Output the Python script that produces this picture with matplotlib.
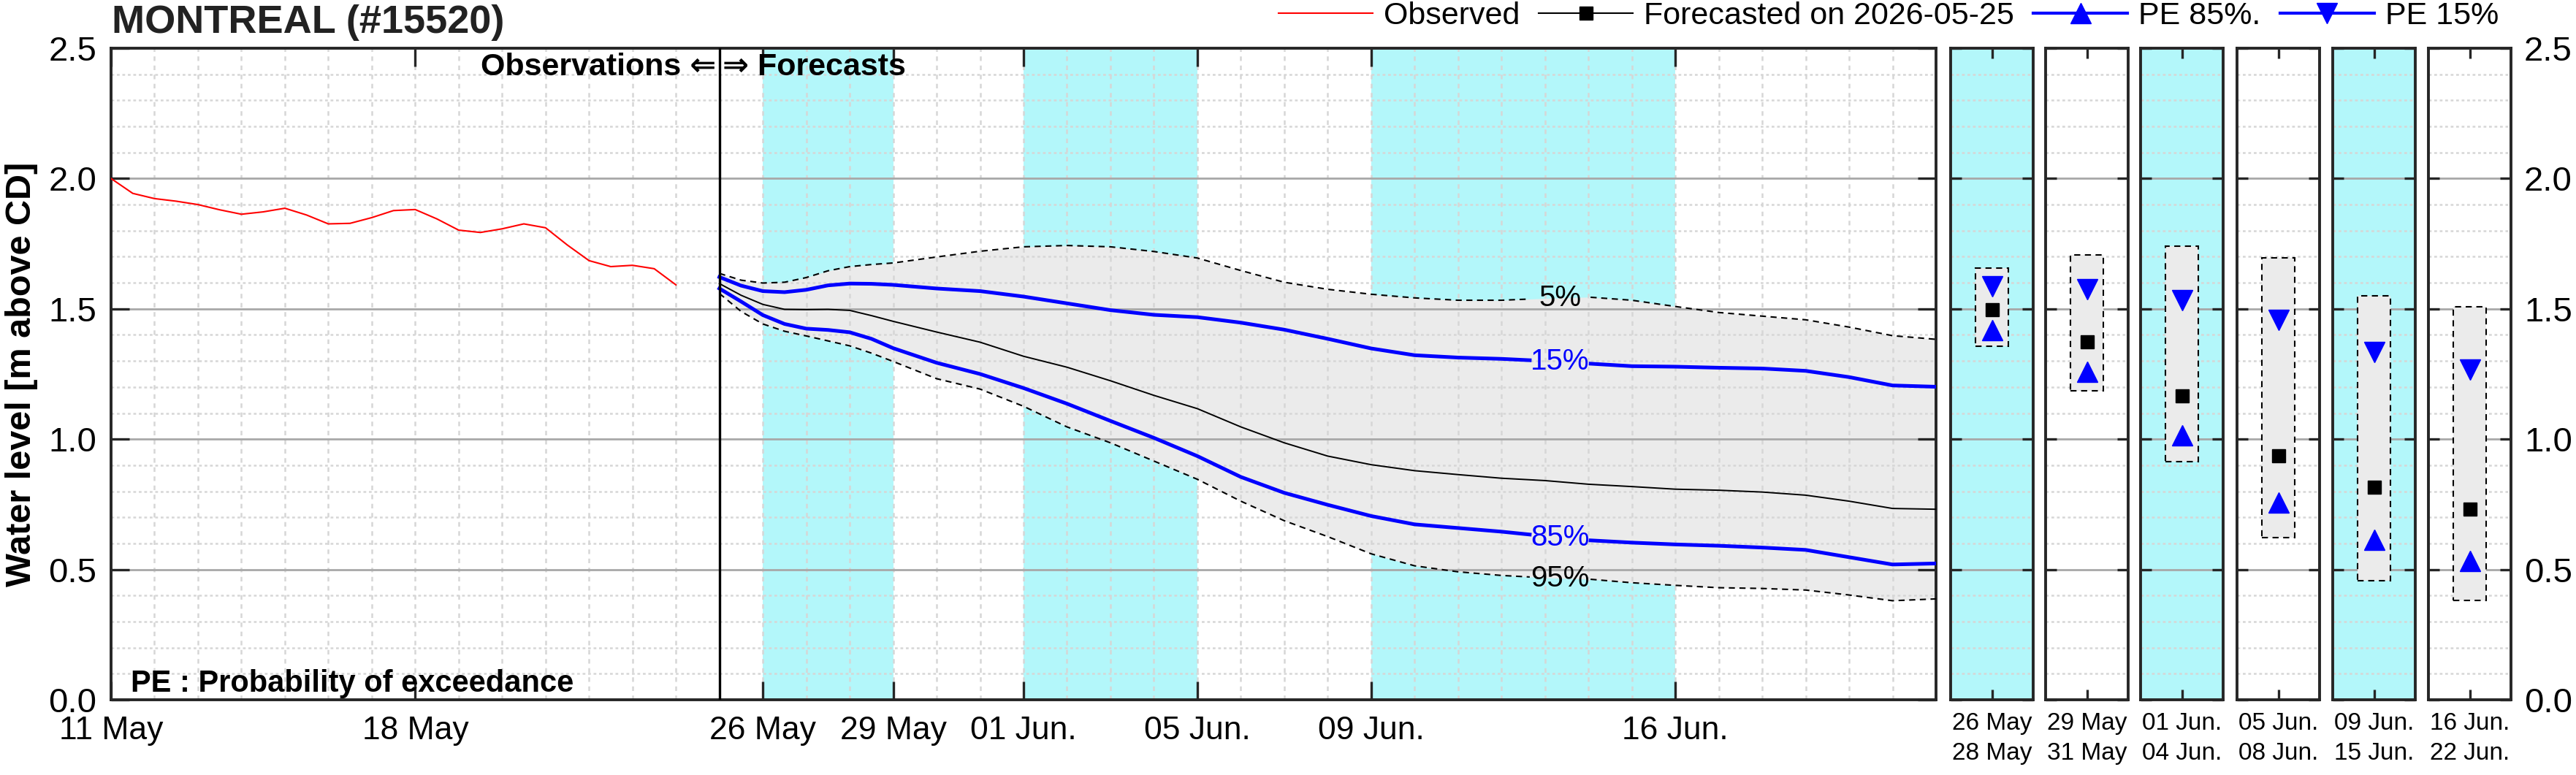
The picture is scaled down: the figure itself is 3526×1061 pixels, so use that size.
import numpy as np
import matplotlib
matplotlib.use('Agg')
import matplotlib.pyplot as plt
from matplotlib.lines import Line2D
from matplotlib.patches import Rectangle
from matplotlib.ticker import MultipleLocator

plt.rcParams['font.family'] = ['Liberation Sans', 'DejaVu Sans']

# x = days counted from 11 May 2026 00:00
obs_day = [0, 0.5, 1, 1.5, 2, 2.5, 3, 3.5, 4, 4.5, 5, 5.5, 6, 6.5, 7, 7.5,
           8, 8.5, 9, 9.5, 10, 10.5, 11, 11.5, 12, 12.5, 13]
obs_level = [2.000, 1.943, 1.923, 1.913, 1.900, 1.880, 1.863, 1.872, 1.886,
             1.860, 1.826, 1.828, 1.850, 1.877, 1.881, 1.845, 1.802, 1.793,
             1.807, 1.826, 1.811, 1.745, 1.685, 1.662, 1.667, 1.654, 1.592]

fc_day = [14, 14.5, 15, 15.5, 16, 16.5, 17, 17.5, 18, 19, 20, 21, 22, 23, 24,
          25, 26, 27, 28, 29, 30, 31, 32, 33, 34, 35, 36, 37, 38, 39, 40, 41, 42]
pe05 = [1.636, 1.610, 1.599, 1.602, 1.620, 1.646, 1.662, 1.670, 1.676,
        1.699, 1.721, 1.738, 1.743, 1.738, 1.720, 1.695, 1.647, 1.602, 1.575,
        1.556, 1.542, 1.533, 1.533, 1.540, 1.545, 1.533, 1.509, 1.486, 1.472,
        1.458, 1.430, 1.397, 1.383]
pe15 = [1.622, 1.589, 1.568, 1.564, 1.573, 1.590, 1.597, 1.596, 1.592,
        1.578, 1.568, 1.547, 1.521, 1.495, 1.477, 1.468, 1.447, 1.420, 1.385,
        1.348, 1.322, 1.313, 1.308, 1.300, 1.290, 1.280, 1.278, 1.274, 1.271,
        1.262, 1.238, 1.206, 1.201]
median = [1.597, 1.552, 1.517, 1.498, 1.497, 1.498, 1.494, 1.474, 1.452,
          1.411, 1.372, 1.318, 1.276, 1.224, 1.168, 1.117, 1.047, 0.986, 0.935,
          0.902, 0.879, 0.864, 0.850, 0.841, 0.827, 0.818, 0.808, 0.804, 0.797,
          0.785, 0.762, 0.734, 0.731]
pe85 = [1.578, 1.528, 1.476, 1.442, 1.424, 1.419, 1.410, 1.385, 1.349,
        1.293, 1.250, 1.196, 1.136, 1.070, 1.005, 0.935, 0.855, 0.794, 0.748,
        0.705, 0.673, 0.659, 0.645, 0.628, 0.612, 0.603, 0.596, 0.591, 0.584,
        0.575, 0.547, 0.519, 0.523]
pe95 = [1.559, 1.490, 1.442, 1.414, 1.396, 1.377, 1.358, 1.330, 1.298,
        1.232, 1.192, 1.126, 1.047, 0.986, 0.916, 0.846, 0.762, 0.687, 0.626,
        0.560, 0.514, 0.491, 0.477, 0.468, 0.463, 0.449, 0.439, 0.430, 0.427,
        0.421, 0.402, 0.380, 0.387]

forecast_day = 14
weekend_bands = [(15, 18), (21, 25), (29, 36)]
tick_days = [0, 7, 15, 18, 21, 25, 29, 36]
tick_labels = ['11 May', '18 May', '26 May', '29 May', '01 Jun.', '05 Jun.',
               '09 Jun.', '16 Jun.']

# summary panels
panel_start = ['26 May', '29 May', '01 Jun.', '05 Jun.', '09 Jun.', '16 Jun.']
panel_end = ['28 May', '31 May', '04 Jun.', '08 Jun.', '15 Jun.', '22 Jun.']
panel_shaded = [True, False, True, False, True, False]
panel_max = [1.655, 1.708, 1.741, 1.695, 1.551, 1.509]
panel_min = [1.357, 1.186, 0.915, 0.621, 0.456, 0.380]
panel_pe15 = [1.585, 1.576, 1.532, 1.456, 1.334, 1.266]
panel_med = [1.496, 1.372, 1.167, 0.936, 0.816, 0.731]
panel_pe85 = [1.418, 1.258, 1.014, 0.757, 0.613, 0.532]

CYAN = '#b3f7fa'
FILL = '#ebebeb'
SPINE = '#262626'
BLUE = '#0000ff'

W, H = 3526, 1061
fig = plt.figure(figsize=(W / 100, H / 100), dpi=100)
fig.patch.set_facecolor('white')


def fx(px):
    return px / W


def fy(py):
    return 1 - py / H


def style_axes(ax, tick_len):
    for s in ax.spines.values():
        s.set_linewidth(2.8)
        s.set_color(SPINE)
    ax.set_ylim(0, 2.5)
    ax.yaxis.set_major_locator(MultipleLocator(0.5))
    ax.yaxis.set_minor_locator(MultipleLocator(0.1))
    ax.set_axisbelow(True)
    ax.grid(which='major', axis='y', color='#a8a8a8', lw=2.0, ls='-')
    ax.grid(which='minor', axis='y', color='#d6d6d6', lw=1.8, ls=(0, (1.5, 1.5)))
    ax.tick_params(which='major', direction='in', length=tick_len, width=2.4,
                   color=SPINE, top=True, right=True)
    ax.tick_params(which='minor', length=0)


def plot_gap(ax, x, y, gap, **kw):
    x = np.asarray(x, float)
    y = np.asarray(y, float)
    lo, hi = gap
    xl = np.append(x[x < lo], lo)
    yl = np.append(y[x < lo], np.interp(lo, x, y))
    xr = np.insert(x[x > hi], 0, hi)
    yr = np.insert(y[x > hi], 0, np.interp(hi, x, y))
    ax.plot(xl, yl, **kw)
    ax.plot(xr, yr, **kw)


# main axes
ax = fig.add_axes([fx(152), fy(958), fx(2650 - 152), (958 - 66) / H])
style_axes(ax, 18)
ax.set_xlim(0, 42)
ax.set_xticks(tick_days)
ax.set_xticklabels(tick_labels)
ax.xaxis.set_minor_locator(MultipleLocator(1))
ax.grid(which='both', axis='x', color='#d6d6d6', lw=1.8, ls=(0, (2.5, 2.5)))
ax.tick_params(axis='x', labelsize=32, pad=16)
ax.tick_params(axis='y', labelsize=34, pad=14, labelright=False)

for a, b in weekend_bands:
    ax.axvspan(a, b, color=CYAN, lw=0, zorder=0.1)
ax.fill_between(fc_day, pe95, pe05, color=FILL, lw=0, zorder=0.3)

ax.plot(obs_day, obs_level, color='red', lw=1.5, zorder=3)
ax.axvline(forecast_day, color='black', lw=2.4, zorder=4)

gap = (32.65, 34.05)
lab_x = 33.35
plot_gap(ax, fc_day, pe05, gap, color='black', lw=1.5, ls=(0, (4, 3)), zorder=3)
plot_gap(ax, fc_day, pe95, gap, color='black', lw=1.5, ls=(0, (4, 3)), zorder=3)
ax.plot(fc_day, median, color='black', lw=1.4, zorder=3)
plot_gap(ax, fc_day, pe15, gap, color=BLUE, lw=3.6, zorder=3)
plot_gap(ax, fc_day, pe85, gap, color=BLUE, lw=3.6, zorder=3)

ax.text(lab_x, np.interp(lab_x, fc_day, pe05), '5%', fontsize=29, color='black',
        ha='center', va='center', zorder=5)
ax.text(lab_x, np.interp(lab_x, fc_day, pe15), '15%', fontsize=29, color=BLUE,
        ha='center', va='center', zorder=5)
ax.text(lab_x, np.interp(lab_x, fc_day, pe85), '85%', fontsize=29, color=BLUE,
        ha='center', va='center', zorder=5)
ax.text(lab_x, np.interp(lab_x, fc_day, pe95), '95%', fontsize=29, color='black',
        ha='center', va='center', zorder=5)

ax.text(forecast_day - 0.08, 2.396, 'Observations \u21d0', fontsize=31,
        fontweight='bold', ha='right', va='baseline', zorder=5)
ax.text(forecast_day + 0.08, 2.396, '\u21d2 Forecasts', fontsize=31,
        fontweight='bold', ha='left', va='baseline', zorder=5)
ax.text(0.45, 0.031, 'PE : Probability of exceedance', fontsize=30,
        fontweight='bold', ha='left', va='baseline', zorder=5)
fig.text(fx(30), fy(512), 'Water level [m above CD]', fontsize=35,
         fontweight='bold', rotation=90, ha='center', va='center')

# summary panels
panel_left = [2670, 2800, 2930, 3062, 3193, 3324]
for i in range(len(panel_start)):
    pa = fig.add_axes([fx(panel_left[i]), fy(958), fx(113), (958 - 66) / H])
    style_axes(pa, 11)
    pa.set_facecolor(CYAN if panel_shaded[i] else 'white')
    pa.set_xlim(0, 1)
    pa.set_xticks([0.5])
    pa.set_xticklabels([panel_start[i] + '\n' + panel_end[i]], linespacing=1.45)
    pa.tick_params(axis='x', labelsize=24, pad=12, length=10)
    last = i == len(panel_start) - 1
    pa.tick_params(axis='y', labelleft=False, labelright=last, labelsize=34, pad=13)
    pa.add_patch(Rectangle((0.3, panel_min[i]), 0.4, panel_max[i] - panel_min[i],
                           facecolor=FILL, edgecolor='black', lw=1.5,
                           ls=(0, (4, 3)), zorder=2))
    pa.plot([0.5], [panel_pe15[i]], marker='v', color=BLUE, ms=20, ls='none', zorder=3)
    pa.plot([0.5], [panel_pe85[i]], marker='^', color=BLUE, ms=20, ls='none', zorder=3)
    pa.plot([0.5], [panel_med[i]], marker='s', color='black', ms=13, ls='none', zorder=3)

fig.text(fx(153), fy(45), 'MONTREAL (#15520)', fontsize=39, fontweight='bold',
         ha='left', va='baseline', color='#222222')

handles = [
    Line2D([], [], color='red', lw=1.5),
    Line2D([], [], color='black', lw=1.5, marker='s', ms=13),
    Line2D([], [], color=BLUE, lw=3, marker='^', ms=20),
    Line2D([], [], color=BLUE, lw=3, marker='v', ms=20),
]
labels = ['Observed', 'Forecasted on 2026-05-25', 'PE 85%.', 'PE 15%']
fig.legend(handles, labels, loc='center right', bbox_to_anchor=(fx(3420), fy(22)),
           ncol=4, frameon=False, fontsize=31, handlelength=3,
           handletextpad=0.35, columnspacing=0.6, borderpad=0, borderaxespad=0)

fig.savefig('out.png', dpi=100)
